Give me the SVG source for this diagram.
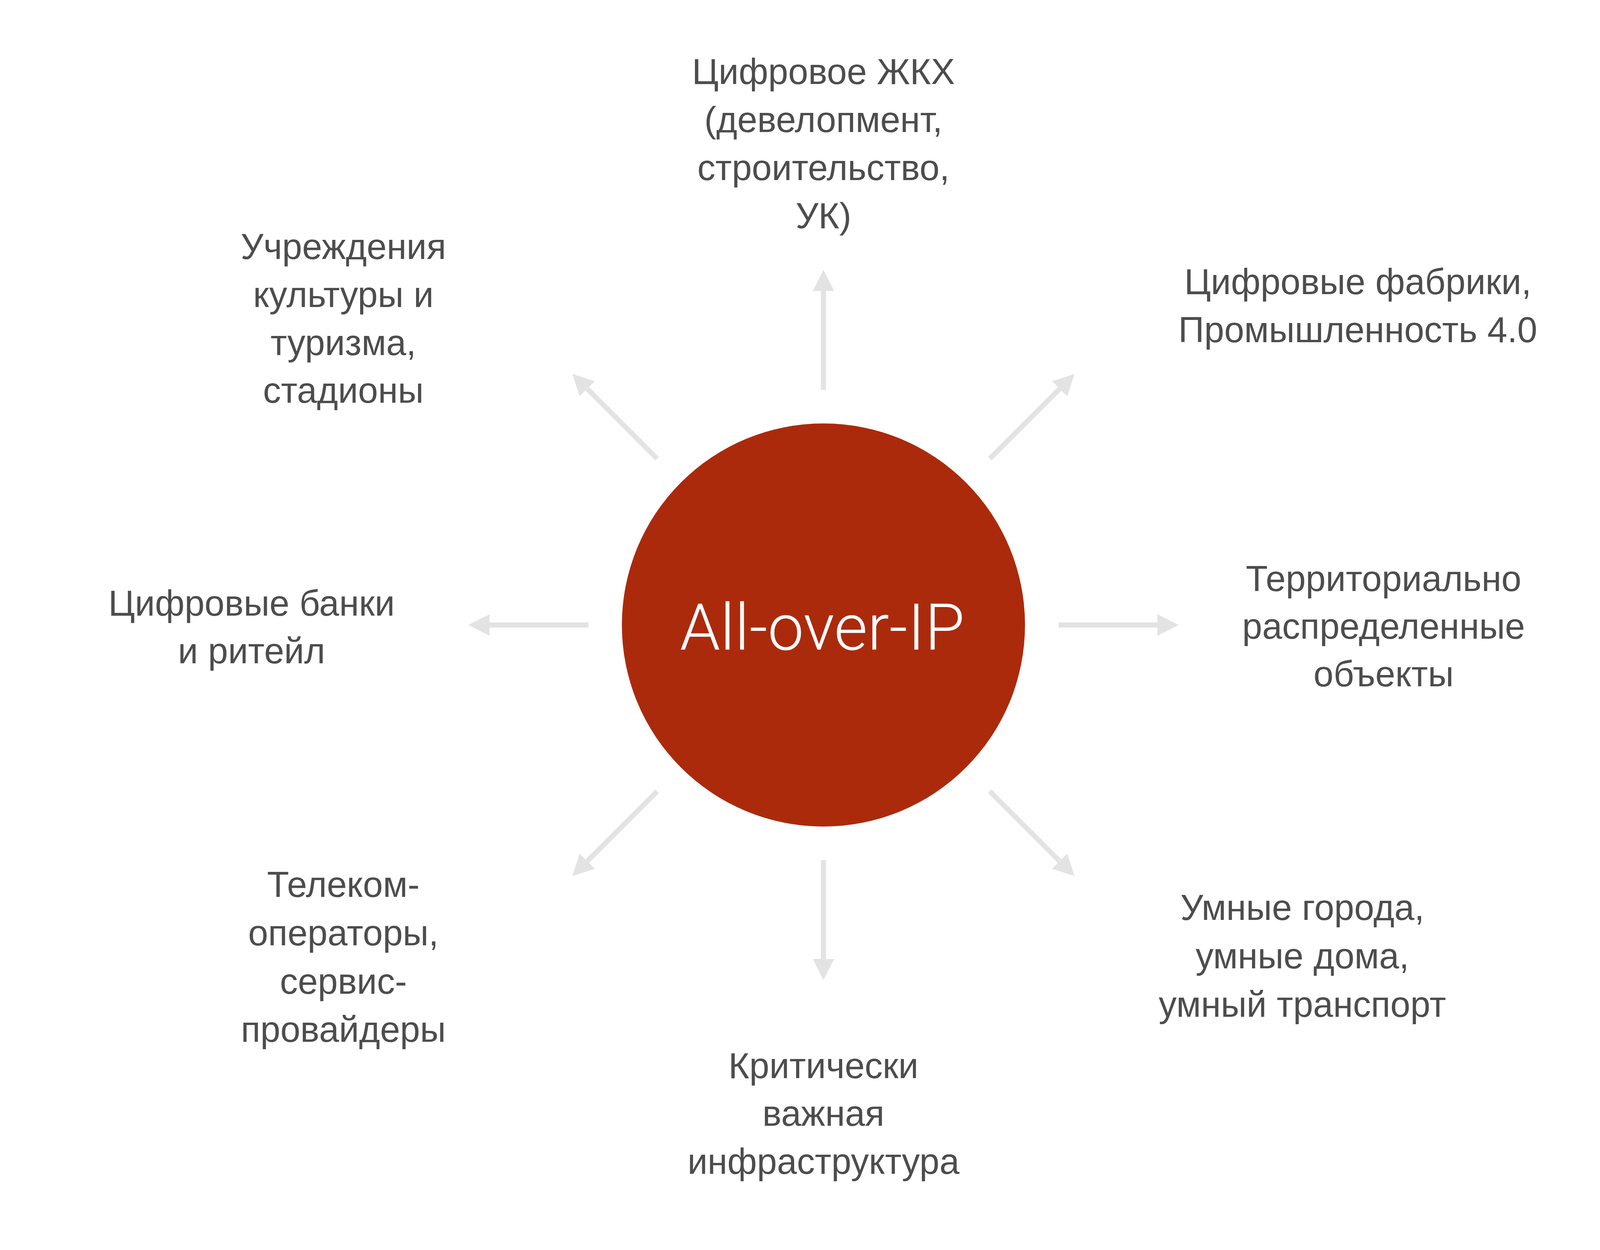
<svg xmlns="http://www.w3.org/2000/svg" width="4266" height="3200" viewBox="0 0 4266 3200">
<style>
.lbl{font-family:"Liberation Sans",Arial,"Noto Sans",sans-serif;font-size:92px;fill:#4D4D4D;text-anchor:middle}
.arr{stroke:#E3E3E3;stroke-width:13;fill:none;marker-end:url(#head)}
.title{font-family:Roboto,"Liberation Sans",sans-serif;font-weight:300;font-size:166px;fill:#FFFFFF;text-anchor:middle}
</style>
<defs>
<marker id="head" markerUnits="userSpaceOnUse" markerWidth="54" markerHeight="56" viewBox="0 0 54 56" refX="0" refY="28" orient="auto">
<path d="M0,0.5 L54,28 L0,55.5 Z" fill="#E3E3E3"/>
</marker>
</defs>
<rect width="4266" height="3200" fill="#FFFFFF"/>
<g id="connectors">
<line class="arr" x1="2108" y1="998" x2="2108" y2="745"/>
<line class="arr" x1="2108" y1="2202" x2="2108" y2="2455"/>
<line class="arr" x1="1506" y1="1600" x2="1253" y2="1600"/>
<line class="arr" x1="2710" y1="1600" x2="2963" y2="1600"/>
<line class="arr" x1="1682.3" y1="1174.3" x2="1503.4" y2="995.4"/>
<line class="arr" x1="2533.7" y1="1174.3" x2="2712.6" y2="995.4"/>
<line class="arr" x1="1682.3" y1="2025.7" x2="1503.4" y2="2204.6"/>
<line class="arr" x1="2533.7" y1="2025.7" x2="2712.6" y2="2204.6"/>
</g>
<g id="hub">
<circle cx="2108" cy="1600" r="516" fill="#AB2A0C"/>
<text class="title" x="2105" y="1663" textLength="729" lengthAdjust="spacingAndGlyphs">All-over-IP</text>
</g>
<g id="node-top">
<text class="lbl" x="2108" y="215">Цифровое ЖКХ</text>
<text class="lbl" x="2108" y="338">(девелопмент,</text>
<text class="lbl" x="2108" y="461">строительство,</text>
<text class="lbl" x="2108" y="584">УК)</text>
</g>
<g id="node-top-left">
<text class="lbl" x="879" y="663">Учреждения</text>
<text class="lbl" x="879" y="786">культуры и</text>
<text class="lbl" x="879" y="909">туризма,</text>
<text class="lbl" x="879" y="1031">стадионы</text>
</g>
<g id="node-top-right">
<text class="lbl" x="3476" y="753">Цифровые фабрики,</text>
<text class="lbl" x="3476" y="876">Промышленность 4.0</text>
</g>
<g id="node-left">
<text class="lbl" x="644" y="1576">Цифровые банки</text>
<text class="lbl" x="644" y="1698">и ритейл</text>
</g>
<g id="node-right">
<text class="lbl" x="3542" y="1513">Территориально</text>
<text class="lbl" x="3542" y="1635">распределенные</text>
<text class="lbl" x="3542" y="1757">объекты</text>
</g>
<g id="node-bottom-left">
<text class="lbl" x="879" y="2296">Телеком-</text>
<text class="lbl" x="879" y="2420">операторы,</text>
<text class="lbl" x="879" y="2544">сервис-</text>
<text class="lbl" x="879" y="2667">провайдеры</text>
</g>
<g id="node-bottom-right">
<text class="lbl" x="3334" y="2355">Умные города,</text>
<text class="lbl" x="3334" y="2479">умные дома,</text>
<text class="lbl" x="3334" y="2603">умный транспорт</text>
</g>
<g id="node-bottom">
<text class="lbl" x="2108" y="2760">Критически</text>
<text class="lbl" x="2108" y="2882">важная</text>
<text class="lbl" x="2108" y="3005">инфраструктура</text>
</g>
</svg>
